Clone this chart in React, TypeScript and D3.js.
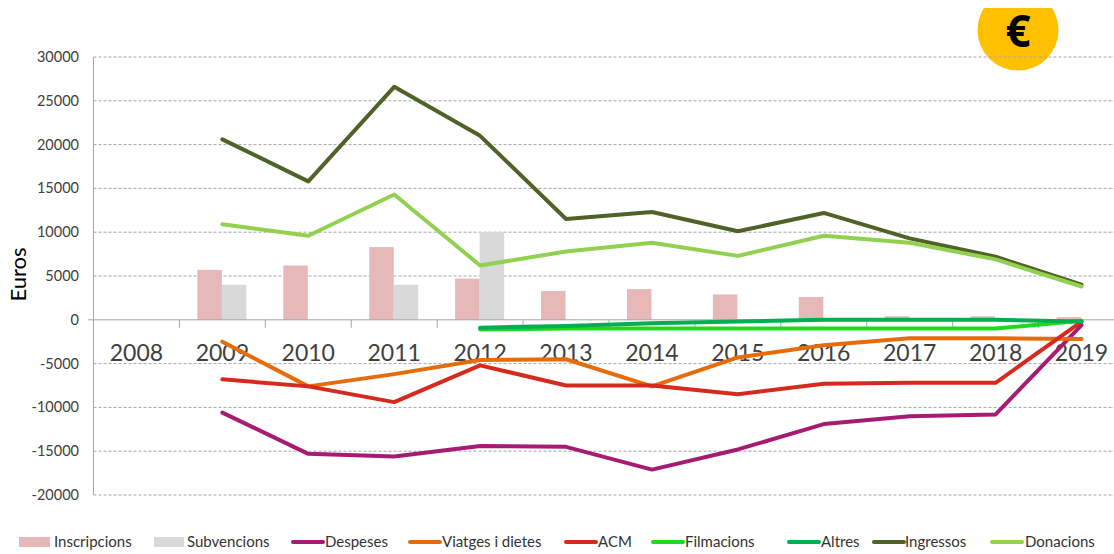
import React from 'react'
import * as d3 from 'd3'

const years = ['2008', '2009', '2010', '2011', '2012', '2013', '2014', '2015', '2016', '2017', '2018', '2019']
const yTicks = [30000, 25000, 20000, 15000, 10000, 5000, 0, -5000, -10000, -15000, -20000]

type V = number | null
const inscripcions: V[] = [null, 5700, 6200, 8300, 4700, 3300, 3500, 2900, 2600, 400, 400, 300]
const subvencions: V[] = [null, 4000, null, 4000, 10000, null, null, null, null, null, null, null]
const despeses: V[] = [null, -10600, -15300, -15600, -14400, -14500, -17100, -14800, -11900, -11000, -10800, -600]
const viatges: V[] = [null, -2500, -7600, -6200, -4600, -4500, -7600, -4300, -2900, -2100, -2100, -2200]
const acm: V[] = [null, -6800, -7600, -9400, -5200, -7500, -7500, -8500, -7300, -7200, -7200, -200]
const filmacions: V[] = [null, null, null, null, -1100, -1000, -1000, -1000, -1000, -1000, -1000, -100]
const altres: V[] = [null, null, null, null, -900, -700, -400, -200, 0, 0, 0, -200]
const ingressos: V[] = [null, 20600, 15800, 26600, 21000, 11500, 12300, 10100, 12200, 9300, 7200, 4000]
const donacions: V[] = [null, 10900, 9600, 14300, 6200, 7800, 8800, 7300, 9600, 8800, 6900, 3800]

const lineSeries = [
  { name: 'Despeses', values: despeses, color: '#a61c72' },
  { name: 'Viatges i dietes', values: viatges, color: '#e46c0a' },
  { name: 'ACM', values: acm, color: '#d62a1e' },
  { name: 'Filmacions', values: filmacions, color: '#22d81e' },
  { name: 'Altres', values: altres, color: '#00b050' },
  { name: 'Ingressos', values: ingressos, color: '#4f6228' },
  { name: 'Donacions', values: donacions, color: '#92d050' },
]

const legendItems = [
  { name: 'Inscripcions', color: '#e6b8b7', bar: true, x: 19, w: 31, tx: 54 },
  { name: 'Subvencions', color: '#d9d9d9', bar: true, x: 154, w: 30, tx: 187 },
  { name: 'Despeses', color: '#a61c72', bar: false, x: 293, w: 30, tx: 325 },
  { name: 'Viatges i dietes', color: '#e46c0a', bar: false, x: 410, w: 30, tx: 442 },
  { name: 'ACM', color: '#d62a1e', bar: false, x: 566, w: 30, tx: 598 },
  { name: 'Filmacions', color: '#22d81e', bar: false, x: 653, w: 30, tx: 685 },
  { name: 'Altres', color: '#00b050', bar: false, x: 789, w: 30, tx: 821 },
  { name: 'Ingressos', color: '#4f6228', bar: false, x: 874, w: 30, tx: 905 },
  { name: 'Donacions', color: '#92d050', bar: false, x: 992, w: 30, tx: 1025 },
]

const font = 'Lato, Carlito, sans-serif'

export default function App() {
  const x = d3.scaleBand().domain(years).range([93.5, 1124.5])
  const y = d3.scaleLinear().domain([-20000, 30000]).range([495, 57])
  const bw = x.bandwidth()
  const barW = 24.5
  const cx = (i: number) => (x(years[i]) as number) + bw / 2

  const line = d3.line<V>()
    .defined(d => d !== null)
    .x((d, i) => cx(i))
    .y(d => y(d as number))

  return (
    <svg width={1114} height={554} style={{ position: 'absolute', left: 0, top: 0, background: '#fff' }}>
      {/* euro badge */}
      <clipPath id="badge"><rect x={940} y={8} width={174} height={80} /></clipPath>
      <circle cx={1018} cy={30} r={40.5} fill="#ffc000" clipPath="url(#badge)" />

      {/* grid */}
      {yTicks.filter(t => t !== 0).map(t => (
        <line key={t} x1={93.5} x2={1114} y1={y(t)} y2={y(t)} stroke="#a6a6a6" strokeWidth={1} strokeDasharray="3 2" />
      ))}
      <text x={1018} y={47} textAnchor="middle" fontFamily="'Open Sans', sans-serif" fontWeight={700} fontSize={44} fill="#000">€</text>

      {/* bars */}
      {inscripcions.map((d, i) => d === null ? null : (
        <rect key={'i' + i} x={cx(i) - barW - 0.5} width={barW} y={y(d)} height={y(0) - y(d)} fill="#e6b8b7" />
      ))}
      {subvencions.map((d, i) => d === null ? null : (
        <rect key={'s' + i} x={cx(i) - 0.5} width={barW} y={y(d)} height={y(0) - y(d)} fill="#d9d9d9" />
      ))}

      {/* axes */}
      <line x1={93.5} x2={93.5} y1={57} y2={495} stroke="#a6a6a6" />
      <line x1={88} x2={1114} y1={y(0)} y2={y(0)} stroke="#a6a6a6" />
      {years.slice(1).map(yr => (
        <line key={yr} x1={x(yr)} x2={x(yr)} y1={y(0)} y2={y(0) + 8} stroke="#a6a6a6" />
      ))}
      {yTicks.map(t => (
        <text key={t} x={79} y={y(t) + 5} textAnchor="end" fontFamily={font} fontSize={14.5} fill="#404040">{t}</text>
      ))}
      {years.map(yr => (
        <text key={yr} x={(x(yr) as number) + bw / 2} y={361} textAnchor="middle" fontFamily={font} fontSize={23} fill="#404040">{yr}</text>
      ))}
      <text transform="translate(26,274.5) rotate(-90)" textAnchor="middle" fontFamily={font} fontSize={22} fill="#000">Euros</text>

      {/* lines */}
      {lineSeries.map(s => (
        <path key={s.name} d={line(s.values) as string} fill="none" stroke={s.color} strokeWidth={4} strokeLinejoin="round" strokeLinecap="round" />
      ))}

      {/* legend */}
      {legendItems.map(l => (
        <g key={l.name}>
          {l.bar
            ? <rect x={l.x} y={537} width={l.w} height={10} fill={l.color} />
            : <line x1={l.x} x2={l.x + l.w} y1={542} y2={542} stroke={l.color} strokeWidth={4} strokeLinecap="round" />}
          <text x={l.tx} y={547} fontFamily={font} fontSize={15} fill="#333">{l.name}</text>
        </g>
      ))}
    </svg>
  )
}
